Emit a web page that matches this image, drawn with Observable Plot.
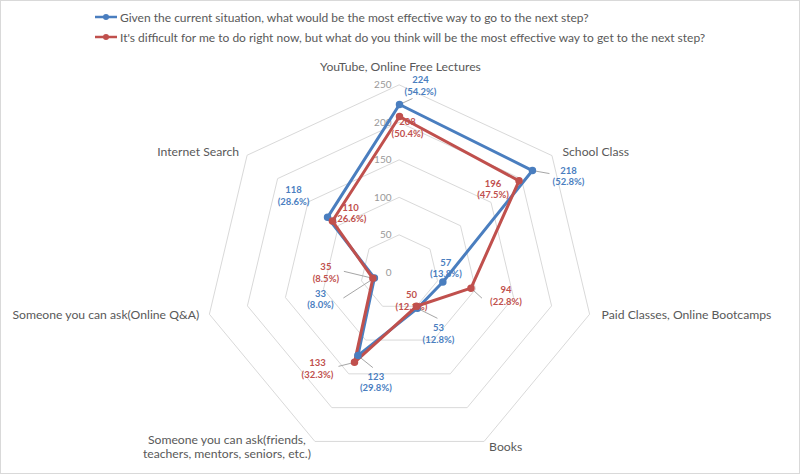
<!DOCTYPE html>
<html>
<head>
<meta charset="utf-8">
<script src="https://cdn.jsdelivr.net/npm/d3@7"></script>
<script src="https://cdn.jsdelivr.net/npm/@observablehq/plot@0.6"></script>
<style>
  html, body { margin: 0; padding: 0; background: #fff; }
  #wrap { position: relative; width: 800px; height: 474px; overflow: hidden; font-family: Lato, "Open Sans", sans-serif; }
  #frame { position: absolute; left: 0; top: 0; width: 798px; height: 472px; border: 1px solid #d9d9d9; pointer-events: none; }
  #legend { position: relative; height: 48px; }
  .row { position: absolute; left: 94px; height: 16px; display: flex; align-items: center; font-size: 12px; color: #595959; white-space: nowrap; }
  .row svg { margin-right: 2px; }
</style>
</head>
<body>
<div id="wrap">
  <div id="legend"></div>
  <div id="chart"></div>
  <div id="frame"></div>
</div>
<script>
const categories = [
  "YouTube, Online Free Lectures",
  "School Class",
  "Paid Classes, Online Bootcamps",
  "Books",
  "Someone you can ask(friends,\nteachers, mentors, seniors, etc.)",
  "Someone you can ask(Online Q&A)",
  "Internet Search"
];
const seriesNames = [
  "Given the current situation, what would be the most effective way to go to the next step?",
  "It's difficult for me to do right now, but what do you think will be the most effective way to get to the next step?"
];
const currentValues = [224, 218, 57, 53, 123, 33, 118];
const currentPct = ["54.2%", "52.8%", "13.8%", "12.8%", "29.8%", "8.0%", "28.6%"];
const difficultValues = [208, 196, 94, 50, 133, 35, 110];
const difficultPct = ["50.4%", "47.5%", "22.8%", "12.1%", "32.3%", "8.5%", "26.6%"];
const ticks = [0, 50, 100, 150, 200, 250];
const colors = ["#4a7ebf", "#c0504d"];

// layout (pixel offsets for labels, separate from data)
const KX = 195 / 250, KY = 187.5 / 250;
const catLabelLayout = [
  {dx: 1, dy: -19, anchor: "middle"},
  {dx: 10.5, dy: -4, anchor: "start"},
  {dx: 12, dy: 0, anchor: "start"},
  {dx: 5, dy: 5, anchor: "start"},
  {dx: -88, dy: 5, anchor: "middle"},
  {dx: -10, dy: 0, anchor: "end"},
  {dx: -8, dy: -4, anchor: "end"}
];
const labelLayout = [
  [[21, -19], [36, 5], [3, -14], [21, 25], [18, 26], [-54, 21], [-34, -22]],
  [[8, 11], [-26, 8], [35, 7], [-5, -6], [-37, 6], [-47, -6], [18, -8]]
];
const leaderLayout = [
  [[13, -6], [17, 3], null, [20, 10], [15, 12], [-31, 20], null],
  [null, null, [11, 10], null, [-16, 4], [-29, -7], null]
];

const n = categories.length;
const ang = i => i * 2 * Math.PI / n;
const px = (v, i) => v * Math.sin(ang(i));
const py = (v, i) => v * Math.cos(ang(i));

const seriesVals = [currentValues, difficultValues];
const seriesPct = [currentPct, difficultPct];

const pts = [];
seriesVals.forEach((vals, s) => vals.forEach((v, i) => {
  const [ldx, ldy] = labelLayout[s][i];
  const lead = leaderLayout[s][i];
  pts.push({
    s, i, v,
    x: px(v, i), y: py(v, i),
    lx: px(v, i) + ldx / KX, ly: py(v, i) - ldy / KY,
    hasLead: !!lead,
    ex: lead ? px(v, i) + lead[0] / KX : 0,
    ey: lead ? py(v, i) - lead[1] / KY : 0,
    label: v + "\n(" + seriesPct[s][i] + ")"
  });
}));

const rings = [];
ticks.slice(1).forEach(t => categories.forEach((c, i) => rings.push({t, x: px(t, i), y: py(t, i)})));

const catLabels = categories.map((c, i) => ({
  c, i, anchor: catLabelLayout[i].anchor,
  x: px(250, i) + catLabelLayout[i].dx / KX,
  y: py(250, i) - catLabelLayout[i].dy / KY
}));

// legend
const legend = document.getElementById("legend");
seriesNames.forEach((name, s) => {
  const row = document.createElement("div");
  row.className = "row";
  row.style.top = (9 + s * 20) + "px";
  row.innerHTML = `<svg width="24" height="10"><line x1="1" y1="5" x2="23" y2="5" stroke="${colors[s]}" stroke-width="2.5"/><circle cx="12" cy="5" r="3" fill="${colors[s]}"/></svg>`;
  const span = document.createElement("span");
  span.textContent = name;
  row.appendChild(span);
  legend.appendChild(row);
});

const CY = 224, CX = 399;
const chart = Plot.plot({
  width: 800,
  height: 426,
  margin: 0,
  x: {domain: [-250, 250], range: [CX - 195, CX + 195], axis: null},
  y: {domain: [-250, 250], range: [CY + 187.5, CY - 187.5], axis: null},
  style: {fontFamily: "Lato, 'Open Sans', sans-serif", background: "transparent"},
  marks: [
    Plot.line(rings, {x: "x", y: "y", z: "t", curve: "linear-closed", stroke: "#d9d9d9", strokeWidth: 1}),
    Plot.text(ticks, {x: d => 0, y: d => d, text: d => String(d), textAnchor: "end", dx: -8, fill: "#999999", fontSize: 10}),
    ...["middle", "start", "end"].map(a => Plot.text(catLabels.filter(d => d.anchor === a), {x: "x", y: "y", text: "c", textAnchor: a, fill: "#595959", fontSize: 12.2, lineHeight: 1.15})),
    Plot.link(pts.filter(d => d.hasLead), {x1: "x", y1: "y", x2: "ex", y2: "ey", stroke: "#a6a6a6", strokeWidth: 1}),
    ...[0, 1].map(s => Plot.line(pts.filter(d => d.s === s), {x: "x", y: "y", curve: "linear-closed", stroke: colors[s], strokeWidth: 3})),
    ...[0, 1].map(s => Plot.dot(pts.filter(d => d.s === s), {x: "x", y: "y", r: 3, fill: colors[s], stroke: colors[s]})),
    ...[0, 1].map(s => Plot.text(pts.filter(d => d.s === s), {x: "lx", y: "ly", text: "label", fill: colors[s], fontSize: 9.5, fontWeight: "bold", lineHeight: 1.2}))
  ]
});
document.getElementById("chart").appendChild(chart);
</script>
</body>
</html>
